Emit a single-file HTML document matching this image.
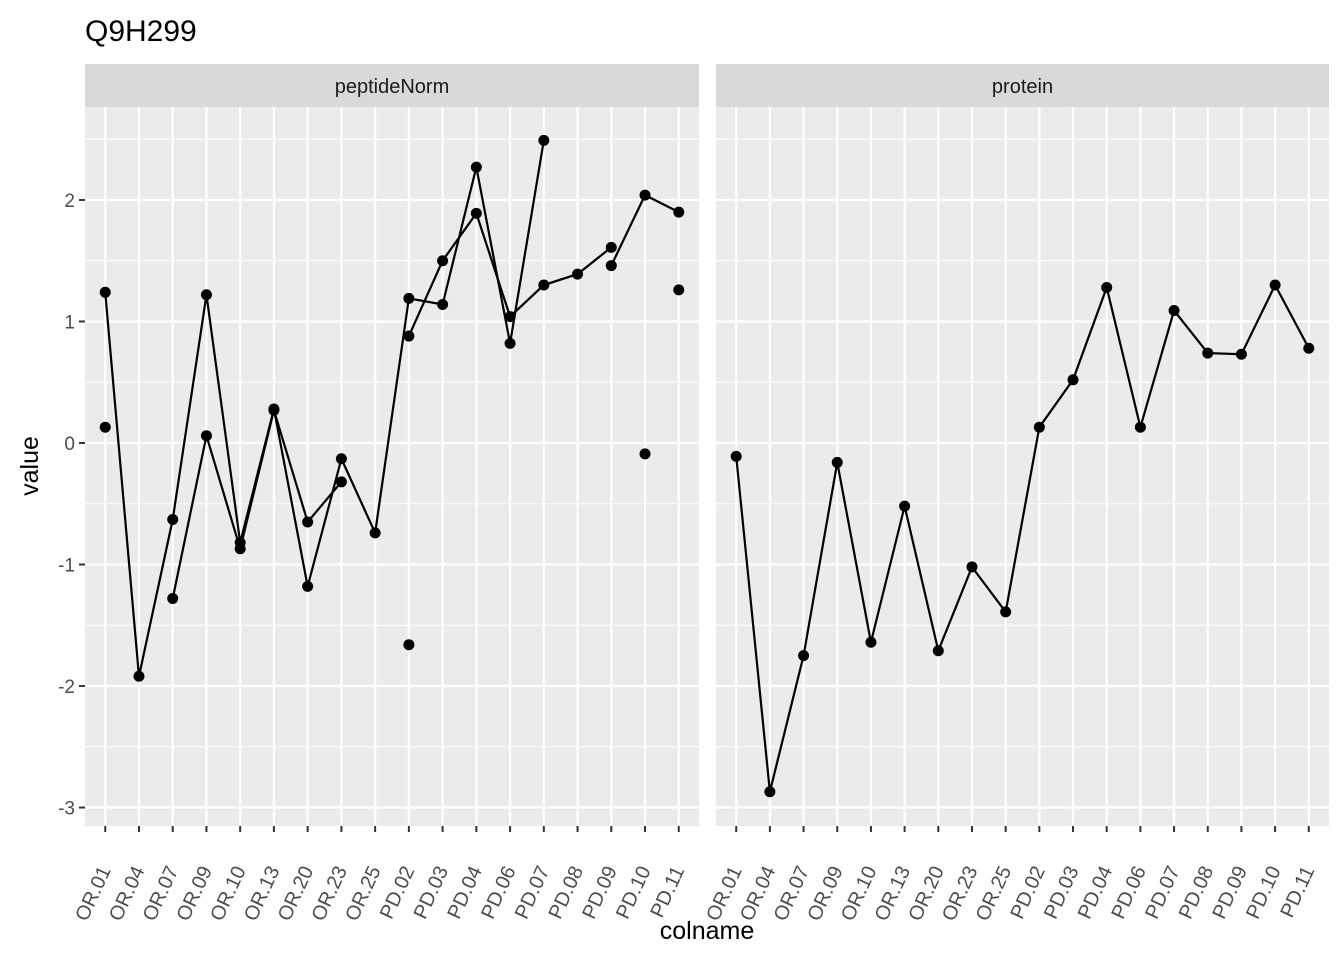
<!DOCTYPE html>
<html><head><meta charset="utf-8"><style>
body{margin:0;background:#fff;}
svg text{font-family:"Liberation Sans",sans-serif;}
</style></head><body>
<svg id="chart" width="1344" height="960" xmlns="http://www.w3.org/2000/svg">
<text x="85" y="41" font-size="30" fill="#000">Q9H299</text>
<text x="707" y="939" font-size="25" text-anchor="middle" fill="#000">colname</text>
<text transform="translate(38,466) rotate(-90)" font-size="25" text-anchor="middle" fill="#000">value</text>
</svg>
<script>
const categories=["OR.01","OR.04","OR.07","OR.09","OR.10","OR.13","OR.20","OR.23","OR.25","PD.02","PD.03","PD.04","PD.06","PD.07","PD.08","PD.09","PD.10","PD.11"];
const yTicks=[-3,-2,-1,0,1,2];
const panels=["peptideNorm","protein"];
const pep1=[1.24,-1.92,-0.63,1.22,-0.82,0.28,-1.18,-0.13,-0.74,1.19,1.14,2.27,0.82,2.49,null,null,null,null];
const pep2=[0.13,null,-1.28,0.06,-0.87,0.27,-0.65,-0.32,null,0.88,1.50,1.89,1.04,1.30,1.39,1.61,null,1.26];
const pep3=[null,null,null,null,null,null,null,null,null,-1.66,null,null,null,null,null,1.46,2.04,1.90];
const pep4=[null,null,null,null,null,null,null,null,null,null,null,null,null,null,null,null,-0.09,null];
const protein=[-0.11,-2.87,-1.75,-0.16,-1.64,-0.52,-1.71,-1.02,-1.39,0.13,0.52,1.28,0.13,1.09,0.74,0.73,1.30,0.78];

const NS="http://www.w3.org/2000/svg";
const svg=document.getElementById('chart');
const top_=107,bot=826,strip=64;
const yMin=-3.152,yMax=2.765;
function y(v){return bot-(v-yMin)/(yMax-yMin)*(bot-top_);}
const panelX=[[85,699],[716,1329]];
function xf(p,i){const [a,b]=panelX[p];const n=categories.length;const step=(b-a)/(n-1+1.2);return a+step*(0.6+i);}
function mk(tag,attrs,parent){const e=document.createElementNS(NS,tag);for(const k in attrs)e.setAttribute(k,attrs[k]);(parent||svg).appendChild(e);return e;}

panels.forEach((name,p)=>{
  const [a,b]=panelX[p];
  const g=mk('g',{});
  
  
  mk('rect',{x:a,y:strip,width:b-a,height:top_-strip,fill:'#D9D9D9'},g);
  const st=mk('text',{x:(a+b)/2,y:93,'font-size':'20','text-anchor':'middle',fill:'#1A1A1A'},g);
  st.textContent=name;
  
  
  mk('rect',{x:a,y:top_,width:b-a,height:bot-top_,fill:'#EBEBEB'},g);
  for(let v=-3;v<=2.5;v+=0.5){
    const yy=y(v);if(yy<top_||yy>bot)continue;
    mk('line',{x1:a,x2:b,y1:yy,y2:yy,stroke:'#fff','stroke-width':Number.isInteger(v)?2.2:1.1},g);
  }
  categories.forEach((c,i)=>{
    const xx=xf(p,i);
    mk('line',{x1:xx,x2:xx,y1:top_,y2:bot,stroke:'#fff','stroke-width':2.2},g);
    mk('line',{x1:xx,x2:xx,y1:bot,y2:bot+6,stroke:'#333','stroke-width':2},g);
    const t=mk('text',{transform:`translate(${xx+6},${870}) rotate(-65)`,'font-size':'20','text-anchor':'end',fill:'#4D4D4D'},g);
    t.textContent=c;
    
    
  });
});
yTicks.forEach(v=>{
  const yy=y(v);
  mk('line',{x1:79,x2:85,y1:yy,y2:yy,stroke:'#333','stroke-width':2});
  const t=mk('text',{x:75,y:yy+7,'font-size':'19','text-anchor':'end',fill:'#4D4D4D'});
  t.textContent=String(v);
  
  
});
function drawSeries(p,vals,name){
  const g=mk('g',{});
  
  
  let seg=[];
  const flush=()=>{if(seg.length>1){const l=mk('polyline',{points:seg.join(' '),fill:'none',stroke:'#000','stroke-width':2.2},g);}seg=[];};
  vals.forEach((v,i)=>{if(v===null){flush();return;}seg.push(xf(p,i)+','+y(v));});
  flush();
  vals.forEach((v,i)=>{if(v===null)return;const c=mk('circle',{cx:xf(p,i),cy:y(v),r:5.5,fill:'#000'},g);});
}
drawSeries(0,pep1,'peptide-1');
drawSeries(0,pep2,'peptide-2');
drawSeries(0,pep3,'peptide-3');
drawSeries(0,pep4,'peptide-4');
drawSeries(1,protein,'protein-series');
</script>
</body></html>
